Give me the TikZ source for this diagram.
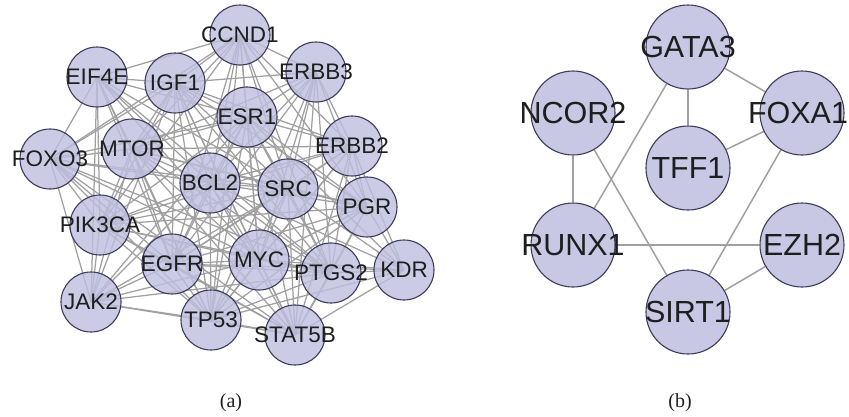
\documentclass[tikz,border=0pt]{standalone}
\usepackage{fontspec}
\setmainfont{Liberation Sans}
\newfontfamily\capfont{Liberation Serif}
\usetikzlibrary{backgrounds}
\definecolor{nodefill}{RGB}{190,190,224}
\definecolor{nodeline}{RGB}{60,60,92}
\definecolor{edgegray}{RGB}{160,160,160}
\definecolor{txt}{RGB}{30,30,30}
\tikzset{
  smalllabel/.style={text=txt, inner sep=0pt, font=\fontsize{22.5}{22.5}\selectfont},
  biglabel/.style={text=txt, inner sep=0pt, font=\fontsize{30.5}{30.5}\selectfont},
  genecircle/.style={circle, inner sep=0pt, minimum size=60pt, fill=nodefill, fill opacity=0.8,
    draw=nodeline, line width=1.1pt},
  gene/.style={genecircle, label={[smalllabel]center:#1}},
  bigcircle/.style={genecircle, minimum size=84pt, fill opacity=0.85},
  bigene/.style={bigcircle, label={[biglabel]center:#1}},
  link/.style={draw=edgegray, line width=1.25pt},
  blink/.style={draw=edgegray, line width=1.5pt},
  caption/.style={font=\capfont\fontsize{20}{20}\selectfont, text=txt}
}
\begin{document}
\begin{tikzpicture}[x=1pt,y=-1pt]
\useasboundingbox (0,0) rectangle (849,416);
% ---------- (a) ----------
\node[gene=CCND1]  (CCND1)  at (240,35)  {};
\node[gene=ERBB3]  (ERBB3)  at (316,72)  {};
\node[gene=IGF1]   (IGF1)   at (175,83)  {};
\node[gene=EIF4E]  (EIF4E)  at (97,77)   {};
\node[gene=ESR1]   (ESR1)   at (247,117) {};
\node[gene=ERBB2]  (ERBB2)  at (352,146) {};
\node[gene=MTOR]   (MTOR)   at (132,149) {};
\node[gene=FOXO3]  (FOXO3)  at (50,159)  {};
\node[gene=BCL2]   (BCL2)   at (210,183) {};
\node[gene=SRC]    (SRC)    at (288,189) {};
\node[gene=PGR]    (PGR)    at (367,207) {};
\node[gene=PIK3CA] (PIK3CA) at (100,225) {};
\node[gene=EGFR]   (EGFR)   at (172,264) {};
\node[gene=MYC]    (MYC)    at (259,260) {};
\node[gene=PTGS2]  (PTGS2)  at (331,273) {};
\node[gene=KDR]    (KDR)    at (404,270) {};
\node[gene=JAK2]   (JAK2)   at (91,302)  {};
\node[gene=TP53]   (TP53)   at (211,320) {};
\node[gene=STAT5B] (STAT5B) at (295,335) {};
\begin{pgfonlayer}{background}
\foreach \s/\ts in {
  CCND1/{ERBB3,IGF1,EIF4E,ESR1,ERBB2,MTOR,FOXO3,BCL2,SRC,PGR,PIK3CA,EGFR,MYC,PTGS2,TP53},
  ERBB3/{IGF1,ESR1,ERBB2,MTOR,BCL2,SRC,PGR,EGFR,MYC,PTGS2,TP53,STAT5B},
  IGF1/{EIF4E,ESR1,ERBB2,MTOR,FOXO3,BCL2,SRC,PGR,PIK3CA,EGFR,MYC,PTGS2,JAK2,TP53,STAT5B},
  EIF4E/{ESR1,MTOR,FOXO3,BCL2,SRC,PIK3CA,EGFR,MYC,PTGS2,JAK2,TP53},
  ESR1/{ERBB2,MTOR,FOXO3,BCL2,SRC,PGR,PIK3CA,EGFR,MYC,PTGS2,KDR,JAK2,TP53,STAT5B},
  ERBB2/{MTOR,BCL2,SRC,PGR,PIK3CA,EGFR,MYC,PTGS2,KDR,TP53,STAT5B},
  MTOR/{FOXO3,BCL2,SRC,PGR,PIK3CA,EGFR,MYC,PTGS2,JAK2,TP53,STAT5B},
  FOXO3/{BCL2,SRC,PIK3CA,EGFR,MYC,PTGS2,JAK2,TP53,STAT5B},
  BCL2/{SRC,PGR,PIK3CA,EGFR,MYC,PTGS2,KDR,JAK2,TP53,STAT5B},
  SRC/{PGR,PIK3CA,EGFR,MYC,PTGS2,KDR,JAK2,TP53,STAT5B},
  PGR/{PIK3CA,EGFR,MYC,PTGS2,KDR,TP53,STAT5B},
  PIK3CA/{EGFR,MYC,PTGS2,JAK2,TP53,STAT5B},
  EGFR/{MYC,PTGS2,KDR,JAK2,TP53,STAT5B},
  MYC/{PTGS2,KDR,JAK2,TP53,STAT5B},
  PTGS2/{KDR,JAK2,TP53,STAT5B},
  KDR/{TP53,STAT5B},
  JAK2/{TP53,STAT5B},
  TP53/{STAT5B}}
  \foreach \t in \ts { \draw[link] (\s.center) -- (\t.center); };
\end{pgfonlayer}
\node[caption] (capa) at (231,403) {(a)};
% ---------- (b) ----------
\node[bigene=GATA3] (GATA3) at (688,47)  {};
\node[bigene=NCOR2] (NCOR2) at (573,113) {};
\node[bigcircle, label={[biglabel, xshift=-4pt]center:FOXA1}] (FOXA1) at (802,113) {};
\node[bigene=TFF1]  (TFF1)  at (688,168) {};
\node[bigene=RUNX1] (RUNX1) at (573,245) {};
\node[bigene=EZH2]  (EZH2)  at (802,245) {};
\node[bigene=SIRT1] (SIRT1) at (688,312) {};
\begin{pgfonlayer}{background}
\draw[blink] (GATA3) -- (TFF1);
\draw[blink] (GATA3) -- (FOXA1);
\draw[blink] (GATA3) -- (RUNX1);
\draw[blink] (NCOR2) -- (RUNX1);
\draw[blink] (NCOR2) -- (SIRT1);
\draw[blink] (TFF1) -- (FOXA1);
\draw[blink] (FOXA1) -- (SIRT1);
\draw[blink] (RUNX1) -- (EZH2);
\draw[blink] (SIRT1) -- (EZH2);
\end{pgfonlayer}
\node[caption] (capb) at (680,403) {(b)};
\end{tikzpicture}
\end{document}
